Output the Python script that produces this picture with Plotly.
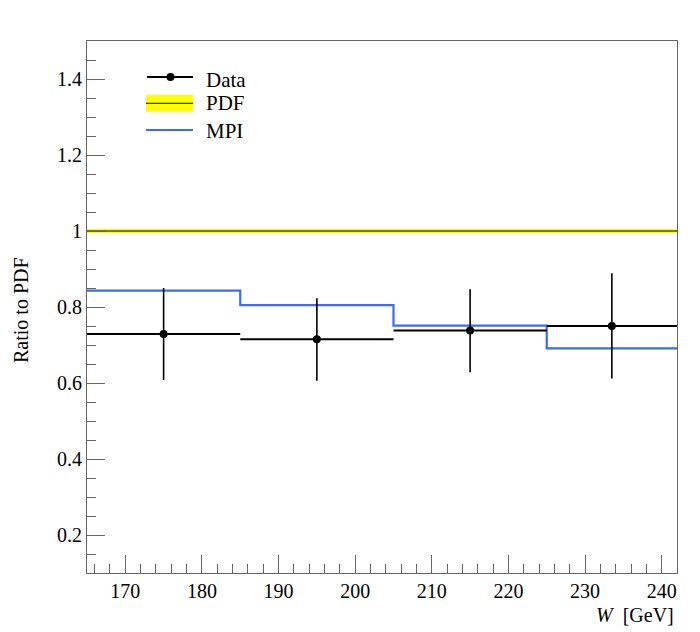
import plotly.graph_objects as go

# Data
bin_edges = [165, 185, 205, 225, 242]
data_x = [175, 195, 215, 233.5]
data_y = [0.729, 0.715, 0.738, 0.750]
data_err_up = [0.121, 0.108, 0.109, 0.139]
data_err_dn = [0.121, 0.109, 0.110, 0.138]
mpi_y = [0.843, 0.805, 0.751, 0.691]
pdf_y = 1.0
pdf_band = 0.005

x_ticks = [170, 180, 190, 200, 210, 220, 230, 240]
y_ticks = [0.2, 0.4, 0.6, 0.8, 1.0, 1.2, 1.4]
y_tick_labels = ["0.2", "0.4", "0.6", "0.8", "1", "1.2", "1.4"]

FONT = "Liberation Serif"
BLUE = "#3a6cf4"
YELLOW = "#ffff00"

fig = go.Figure()

# PDF band
xlo, xhi = bin_edges[0], bin_edges[-1]
fig.add_trace(go.Scatter(
    x=[xlo, xhi, xhi, xlo, xlo],
    y=[pdf_y - pdf_band, pdf_y - pdf_band, pdf_y + pdf_band, pdf_y + pdf_band, pdf_y - pdf_band],
    fill="toself", fillcolor=YELLOW, line=dict(width=0), mode="lines",
    hoverinfo="skip", showlegend=False))
fig.add_trace(go.Scatter(x=[xlo, xhi], y=[pdf_y, pdf_y], mode="lines",
                         line=dict(color="black", width=1), showlegend=False))

# MPI step
fig.add_trace(go.Scatter(x=bin_edges, y=mpi_y + [mpi_y[-1]], mode="lines",
                         line=dict(color=BLUE, width=2.2, shape="hv"), showlegend=False))

# Data
err_x_minus = [c - bin_edges[i] for i, c in enumerate(data_x)]
err_x_plus = [bin_edges[i + 1] - c for i, c in enumerate(data_x)]
fig.add_trace(go.Scatter(
    x=data_x, y=data_y, mode="markers",
    marker=dict(color="black", size=8),
    error_x=dict(type="data", array=err_x_plus, arrayminus=err_x_minus,
                 color="black", thickness=2, width=0),
    error_y=dict(type="data", array=data_err_up, arrayminus=data_err_dn,
                 color="black", thickness=1.6, width=0),
    showlegend=False))

# Manual legend (paper coords)
W, H = 700, 632
L, R, T, B = 87, 23, 41, 59
pw, ph = W - L - R, H - T - B
def px(x):
    return (x - L) / pw
def py(y):
    return 1 - (y - T) / ph

shapes = []
shapes.append(dict(type="line", xref="paper", yref="paper", x0=px(147), x1=px(193),
                   y0=py(77), y1=py(77), line=dict(color="black", width=2)))
shapes.append(dict(type="circle", xref="paper", yref="paper", x0=px(166.5), x1=px(174.5),
                   y0=py(73), y1=py(81), fillcolor="black", line=dict(color="black", width=0)))
shapes.append(dict(type="rect", xref="paper", yref="paper", x0=px(146), x1=px(193),
                   y0=py(95), y1=py(111.5), fillcolor=YELLOW, line=dict(width=0)))
shapes.append(dict(type="line", xref="paper", yref="paper", x0=px(146), x1=px(193),
                   y0=py(103.3), y1=py(103.3), line=dict(color="black", width=1)))
shapes.append(dict(type="line", xref="paper", yref="paper", x0=px(146), x1=px(193),
                   y0=py(130), y1=py(130), line=dict(color=BLUE, width=2.2)))

annotations = []
for label, yy in [("Data", 80), ("PDF", 103.5), ("MPI", 130.5)]:
    annotations.append(dict(text=label, xref="paper", yref="paper", x=px(204), y=py(yy),
                            xanchor="left", yanchor="middle", showarrow=False,
                            font=dict(family=FONT, size=21, color="black")))
annotations.append(dict(text="<i>W</i>  [GeV]", xref="paper", yref="paper", x=px(676), y=py(615),
                        xanchor="right", yanchor="middle", showarrow=False,
                        font=dict(family=FONT, size=20, color="black")))
annotations.append(dict(text="Ratio to PDF", xref="paper", yref="paper", x=px(21), y=py(310),
                        xanchor="center", yanchor="middle", textangle=-90, showarrow=False,
                        font=dict(family=FONT, size=20, color="black")))

axis_common = dict(showgrid=False, zeroline=False, showline=True, linecolor="#666666",
                   linewidth=1, mirror=True, ticks="inside", tickcolor="#666666",
                   tickwidth=1, ticklen=18,
                   tickfont=dict(family=FONT, size=20, color="black"))

fig.update_layout(
    width=W, height=H, margin=dict(l=L, r=R, t=T, b=B),
    paper_bgcolor="white", plot_bgcolor="white", showlegend=False,
    shapes=shapes, annotations=annotations,
    xaxis=dict(range=[165, 242], tickvals=x_ticks,
               minor=dict(ticks="inside", dtick=2, tick0=0, ticklen=9, tickcolor="#666666"),
               **axis_common),
    yaxis=dict(range=[0.1, 1.5], tickvals=y_ticks, ticktext=y_tick_labels,
               minor=dict(ticks="inside", dtick=0.05, tick0=0, ticklen=9, tickcolor="#666666"),
               **axis_common),
)

fig.write_html("out.html")
